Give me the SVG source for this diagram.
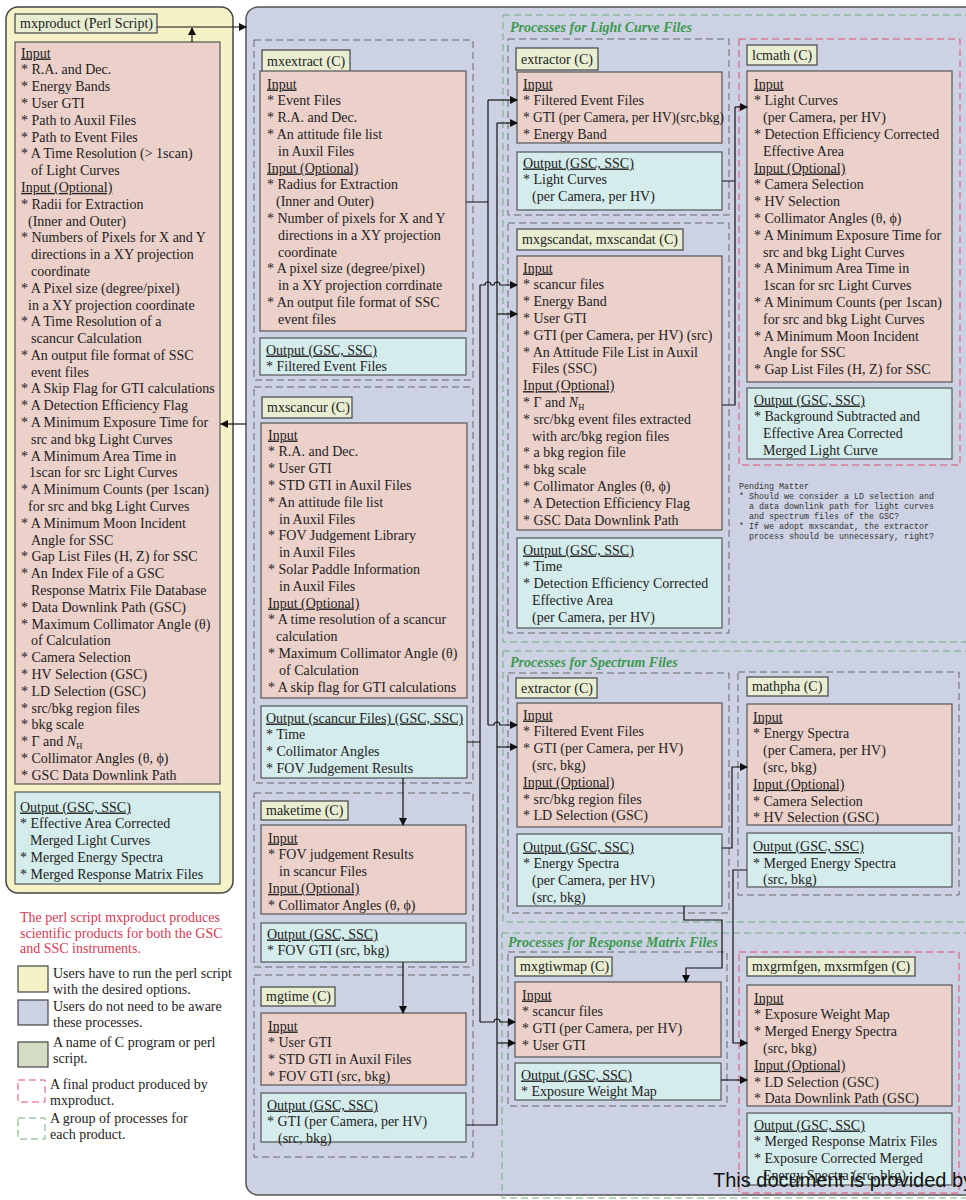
<svg xmlns="http://www.w3.org/2000/svg" width="966" height="1200" viewBox="0 0 966 1200">
<defs>
<marker id="ah" markerWidth="8" markerHeight="8" refX="7" refY="4" orient="auto" markerUnits="userSpaceOnUse"><path d="M0,0 L8,4 L0,8 z" fill="#111"/></marker>
<style>
.t{font-family:"Liberation Serif","Times New Roman",serif;font-size:14px;fill:#222}
.g{font-family:"Liberation Serif","Times New Roman",serif;font-size:14px;font-weight:bold;font-style:italic;fill:#3b9a4c}
.rt{font-family:"Liberation Serif","Times New Roman",serif;font-size:14px;fill:#d63a55}
.pm{font-family:"Liberation Mono","Courier New",monospace;font-size:9.8px;fill:#333}
.in{fill:#ecd0ca;stroke:#555;stroke-width:1.2}
.out{fill:#d4ecec;stroke:#555;stroke-width:1.2}
.ttl{fill:#e9eed2;stroke:#444;stroke-width:1.2}
.gg{fill:none;stroke:#666;stroke-width:1;stroke-dasharray:7 4}
.grn{fill:none;stroke:#6fae7a;stroke-width:1;stroke-dasharray:7 4}
.red{fill:none;stroke:#e2506c;stroke-width:1;stroke-dasharray:7 4}
.c{fill:none;stroke:#111;stroke-width:1.2}
.ca{fill:none;stroke:#111;stroke-width:1.2;marker-end:url(#ah)}
</style>
</defs>
<rect width="966" height="1200" fill="#ffffff"/>

<!-- panels -->
<rect id="panel-user" x="6" y="7" width="227" height="886" rx="12" fill="#f4f2c6" stroke="#444" stroke-width="1.5"/>
<rect id="panel-internal" x="246" y="7" width="740" height="1188" rx="12" fill="#cdd1e4" stroke="#555" stroke-width="1.5"/>

<!-- green process groups -->
<g id="grp-lc"><rect class="grn" x="503" y="15" width="480" height="627"/><text class="g" x="510" y="32">Processes for Light Curve Files</text></g>
<g id="grp-spec"><rect class="grn" x="503" y="651" width="480" height="271"/><text class="g" x="510" y="667">Processes for Spectrum Files</text></g>
<g id="grp-rsp"><rect class="grn" x="502" y="933" width="480" height="265"/><text class="g" x="508" y="947">Processes for Response Matrix Files</text></g>

<!-- mxproduct -->
<g id="mxproduct">
<rect class="ttl" x="15" y="14" width="142" height="19"/>
<text class="t" x="20" y="28">mxproduct (Perl Script)</text>
<rect class="in" x="15" y="42" width="205" height="742"/>
<text class="t" y="57.5">
<tspan x="21" text-decoration="underline">Input</tspan>
<tspan x="21" dy="16.8">* R.A. and Dec.</tspan>
<tspan x="21" dy="16.8">* Energy Bands</tspan>
<tspan x="21" dy="16.8">* User GTI</tspan>
<tspan x="21" dy="16.8">* Path to Auxil Files</tspan>
<tspan x="21" dy="16.8">* Path to Event Files</tspan>
<tspan x="21" dy="16.8">* A Time Resolution (&gt; 1scan)</tspan>
<tspan x="31" dy="16.8">of Light Curves</tspan>
<tspan x="21" dy="16.8" text-decoration="underline">Input (Optional)</tspan>
<tspan x="21" dy="16.8">* Radii for Extraction</tspan>
<tspan x="28" dy="16.8">(Inner and Outer)</tspan>
<tspan x="21" dy="16.8">* Numbers of Pixels for X and Y</tspan>
<tspan x="31" dy="16.8">directions in a XY projection</tspan>
<tspan x="31" dy="16.8">coordinate</tspan>
<tspan x="21" dy="16.8">* A Pixel size (degree/pixel)</tspan>
<tspan x="28" dy="16.8">in a XY projection coordinate</tspan>
<tspan x="21" dy="16.8">* A Time Resolution of a</tspan>
<tspan x="31" dy="16.8">scancur Calculation</tspan>
<tspan x="21" dy="16.8">* An output file format of SSC</tspan>
<tspan x="31" dy="16.8">event files</tspan>
<tspan x="21" dy="16.8">* A Skip Flag for GTI calculations</tspan>
<tspan x="21" dy="16.8">* A Detection Efficiency Flag</tspan>
<tspan x="21" dy="16.8">* A Minimum Exposure Time for</tspan>
<tspan x="31" dy="16.8">src and bkg Light Curves</tspan>
<tspan x="21" dy="16.8">* A Minimum Area Time in</tspan>
<tspan x="29" dy="16.8">1scan for src Light Curves</tspan>
<tspan x="21" dy="16.8">* A Minimum Counts (per 1scan)</tspan>
<tspan x="28" dy="16.8">for src and bkg Light Curves</tspan>
<tspan x="21" dy="16.8">* A Minimum Moon Incident</tspan>
<tspan x="31" dy="16.8">Angle for SSC</tspan>
<tspan x="21" dy="16.8">* Gap List Files (H, Z) for SSC</tspan>
<tspan x="21" dy="16.8">* An Index File of a GSC</tspan>
<tspan x="31" dy="16.8">Response Matrix File Database</tspan>
<tspan x="21" dy="16.8">* Data Downlink Path (GSC)</tspan>
<tspan x="21" dy="16.8">* Maximum Collimator Angle (θ)</tspan>
<tspan x="31" dy="16.8">of Calculation</tspan>
<tspan x="21" dy="16.8">* Camera Selection</tspan>
<tspan x="21" dy="16.8">* HV Selection (GSC)</tspan>
<tspan x="21" dy="16.8">* LD Selection (GSC)</tspan>
<tspan x="21" dy="16.8">* src/bkg region files</tspan>
<tspan x="21" dy="16.8">* bkg scale</tspan>
<tspan x="21" dy="16.8">* Γ and <tspan font-style="italic">N</tspan><tspan font-size="8.5" baseline-shift="-3">H</tspan></tspan>
<tspan x="21" dy="16.8">* Collimator Angles (θ, ϕ)</tspan>
<tspan x="21" dy="16.8">* GSC Data Downlink Path</tspan>
</text>
<rect class="out" x="15" y="792" width="205" height="92"/>
<text class="t" y="811.5">
<tspan x="20" text-decoration="underline">Output (GSC, SSC)</tspan>
<tspan x="20" dy="16.8">* Effective Area Corrected</tspan>
<tspan x="30" dy="16.8">Merged Light Curves</tspan>
<tspan x="20" dy="16.8">* Merged Energy Spectra</tspan>
<tspan x="20" dy="16.8">* Merged Response Matrix Files</tspan>
</text>
</g>

<!-- mxextract -->
<g id="mxextract">
<rect class="gg" x="254" y="40" width="219" height="340"/>
<rect class="ttl" x="262" y="50" width="88" height="22"/>
<text class="t" x="267" y="65.5">mxextract (C)</text>
<rect class="in" x="260" y="71" width="206" height="260"/>
<text class="t" y="88.5">
<tspan x="267" text-decoration="underline">Input</tspan>
<tspan x="267" dy="16.8">* Event Files</tspan>
<tspan x="267" dy="16.8">* R.A. and Dec.</tspan>
<tspan x="267" dy="16.8">* An attitude file list</tspan>
<tspan x="278" dy="16.8">in Auxil Files</tspan>
<tspan x="267" dy="16.8" text-decoration="underline">Input (Optional)</tspan>
<tspan x="267" dy="16.8">* Radius for Extraction</tspan>
<tspan x="276" dy="16.8">(Inner and Outer)</tspan>
<tspan x="267" dy="16.8">* Number of pixels for X and Y</tspan>
<tspan x="278" dy="16.8">directions in a XY projection</tspan>
<tspan x="278" dy="16.8">coordinate</tspan>
<tspan x="267" dy="16.8">* A pixel size (degree/pixel)</tspan>
<tspan x="278" dy="16.8">in a XY projection corrdinate</tspan>
<tspan x="267" dy="16.8">* An output file format of SSC</tspan>
<tspan x="278" dy="16.8">event files</tspan>
</text>
<rect class="out" x="260" y="338" width="206" height="37"/>
<text class="t" y="354.5">
<tspan x="266" text-decoration="underline">Output (GSC, SSC)</tspan>
<tspan x="266" dy="16.8">* Filtered Event Files</tspan>
</text>
</g>

<!-- mxscancur -->
<g id="mxscancur">
<rect class="gg" x="254" y="387" width="219" height="396"/>
<rect class="ttl" x="262" y="397" width="90" height="21"/>
<text class="t" x="267" y="412">mxscancur (C)</text>
<rect class="in" x="261" y="423" width="206" height="275"/>
<text class="t" y="439.5">
<tspan x="268" text-decoration="underline">Input</tspan>
<tspan x="268" dy="16.8">* R.A. and Dec.</tspan>
<tspan x="268" dy="16.8">* User GTI</tspan>
<tspan x="268" dy="16.8">* STD GTI in Auxil Files</tspan>
<tspan x="268" dy="16.8">* An attitude file list</tspan>
<tspan x="279" dy="16.8">in Auxil Files</tspan>
<tspan x="268" dy="16.8">* FOV Judgement Library</tspan>
<tspan x="279" dy="16.8">in Auxil Files</tspan>
<tspan x="268" dy="16.8">* Solar Paddle Information</tspan>
<tspan x="279" dy="16.8">in Auxil Files</tspan>
<tspan x="268" dy="16.8" text-decoration="underline">Input (Optional)</tspan>
<tspan x="268" dy="16.8">* A time resolution of a scancur</tspan>
<tspan x="276" dy="16.8">calculation</tspan>
<tspan x="268" dy="16.8">* Maximum Collimator Angle (θ)</tspan>
<tspan x="279" dy="16.8">of Calculation</tspan>
<tspan x="268" dy="16.8">* A skip flag for GTI calculations</tspan>
</text>
<rect class="out" x="261" y="706" width="206" height="72"/>
<text class="t" y="722.5">
<tspan x="266" text-decoration="underline">Output (scancur Files) (GSC, SSC)</tspan>
<tspan x="266" dy="16.8">* Time</tspan>
<tspan x="266" dy="16.8">* Collimator Angles</tspan>
<tspan x="266" dy="16.8">* FOV Judgement Results</tspan>
</text>
</g>

<!-- maketime -->
<g id="maketime">
<rect class="gg" x="254" y="793" width="219" height="174"/>
<rect class="ttl" x="261" y="801" width="87" height="19"/>
<text class="t" x="266" y="815">maketime (C)</text>
<rect class="in" x="261" y="825" width="205" height="89"/>
<text class="t" y="842.5">
<tspan x="268" text-decoration="underline">Input</tspan>
<tspan x="268" dy="16.8">* FOV judgement Results</tspan>
<tspan x="279" dy="16.8">in scancur Files</tspan>
<tspan x="268" dy="16.8" text-decoration="underline">Input (Optional)</tspan>
<tspan x="268" dy="16.8">* Collimator Angles (θ, ϕ)</tspan>
</text>
<rect class="out" x="261" y="923" width="205" height="39"/>
<text class="t" y="938.5">
<tspan x="267" text-decoration="underline">Output (GSC, SSC)</tspan>
<tspan x="267" dy="16.8">* FOV GTI (src, bkg)</tspan>
</text>
</g>

<!-- mgtime -->
<g id="mgtime">
<rect class="gg" x="254" y="975" width="219" height="182"/>
<rect class="ttl" x="261" y="987" width="74" height="19"/>
<text class="t" x="266" y="1001">mgtime (C)</text>
<rect class="in" x="261" y="1013" width="205" height="72"/>
<text class="t" y="1030.5">
<tspan x="268" text-decoration="underline">Input</tspan>
<tspan x="268" dy="16.8">* User GTI</tspan>
<tspan x="268" dy="16.8">* STD GTI in Auxil Files</tspan>
<tspan x="268" dy="16.8">* FOV GTI (src, bkg)</tspan>
</text>
<rect class="out" x="261" y="1093" width="205" height="49"/>
<text class="t" y="1109.5">
<tspan x="267" text-decoration="underline">Output (GSC, SSC)</tspan>
<tspan x="267" dy="16.8">* GTI (per Camera, per HV)</tspan>
<tspan x="278" dy="16.8">(src, bkg)</tspan>
</text>
</g>

<!-- extractor (light curve) -->
<g id="extractor-lc">
<rect class="gg" x="508" y="39" width="221" height="176"/>
<rect class="ttl" x="516" y="48" width="82" height="22"/>
<text class="t" x="521" y="63.5">extractor (C)</text>
<rect class="in" x="517" y="72" width="205" height="71"/>
<text class="t" y="88.5">
<tspan x="523" text-decoration="underline">Input</tspan>
<tspan x="523" dy="16.8">* Filtered Event Files</tspan>
<tspan x="523" dy="16.8" textLength="201" lengthAdjust="spacingAndGlyphs">* GTI (per Camera, per HV)(src,bkg)</tspan>
<tspan x="523" dy="16.8">* Energy Band</tspan>
</text>
<rect class="out" x="517" y="152" width="205" height="58"/>
<text class="t" y="167.5">
<tspan x="523" text-decoration="underline">Output (GSC, SSC)</tspan>
<tspan x="523" dy="16.8">* Light Curves</tspan>
<tspan x="532" dy="16.8">(per Camera, per HV)</tspan>
</text>
</g>

<!-- mxgscandat -->
<g id="mxgscandat">
<rect class="gg" x="508" y="223" width="221" height="410"/>
<rect class="ttl" x="517" y="229" width="166" height="21"/>
<text class="t" x="522" y="244">mxgscandat, mxscandat (C)</text>
<rect class="in" x="517" y="256" width="205" height="274"/>
<text class="t" y="272.5">
<tspan x="523" text-decoration="underline">Input</tspan>
<tspan x="523" dy="16.8">* scancur files</tspan>
<tspan x="523" dy="16.8">* Energy Band</tspan>
<tspan x="523" dy="16.8">* User GTI</tspan>
<tspan x="523" dy="16.8">* GTI (per Camera, per HV) (src)</tspan>
<tspan x="523" dy="16.8">* An Attitude File List in Auxil</tspan>
<tspan x="532" dy="16.8">Files (SSC)</tspan>
<tspan x="523" dy="16.8" text-decoration="underline">Input (Optional)</tspan>
<tspan x="523" dy="16.8">* Γ and <tspan font-style="italic">N</tspan><tspan font-size="8.5" baseline-shift="-3">H</tspan></tspan>
<tspan x="523" dy="16.8">* src/bkg event files extracted</tspan>
<tspan x="532" dy="16.8">with arc/bkg region files</tspan>
<tspan x="523" dy="16.8">* a bkg region file</tspan>
<tspan x="523" dy="16.8">* bkg scale</tspan>
<tspan x="523" dy="16.8">* Collimator Angles (θ, ϕ)</tspan>
<tspan x="523" dy="16.8">* A Detection Efficiency Flag</tspan>
<tspan x="523" dy="16.8">* GSC Data Downlink Path</tspan>
</text>
<rect class="out" x="517" y="538" width="205" height="90"/>
<text class="t" y="554.5">
<tspan x="523" text-decoration="underline">Output (GSC, SSC)</tspan>
<tspan x="523" dy="16.8">* Time</tspan>
<tspan x="523" dy="16.8">* Detection Efficiency Corrected</tspan>
<tspan x="532" dy="16.8">Effective Area</tspan>
<tspan x="532" dy="16.8">(per Camera, per HV)</tspan>
</text>
</g>

<!-- lcmath -->
<g id="lcmath">
<rect class="red" x="739" y="39" width="221" height="426"/>
<rect class="ttl" x="747" y="45" width="70" height="20"/>
<text class="t" x="752" y="59.5">lcmath (C)</text>
<rect class="in" x="747" y="71" width="205" height="311"/>
<text class="t" y="88.5">
<tspan x="754" text-decoration="underline">Input</tspan>
<tspan x="754" dy="16.8">* Light Curves</tspan>
<tspan x="763" dy="16.8">(per Camera, per HV)</tspan>
<tspan x="754" dy="16.8">* Detection Efficiency Corrected</tspan>
<tspan x="763" dy="16.8">Effective Area</tspan>
<tspan x="754" dy="16.8" text-decoration="underline">Input (Optional)</tspan>
<tspan x="754" dy="16.8">* Camera Selection</tspan>
<tspan x="754" dy="16.8">* HV Selection</tspan>
<tspan x="754" dy="16.8">* Collimator Angles (θ, ϕ)</tspan>
<tspan x="754" dy="16.8">* A Minimum Exposure Time for</tspan>
<tspan x="763" dy="16.8">src and bkg Light Curves</tspan>
<tspan x="754" dy="16.8">* A Minimum Area Time in</tspan>
<tspan x="763" dy="16.8">1scan for src Light Curves</tspan>
<tspan x="754" dy="16.8">* A Minimum Counts (per 1scan)</tspan>
<tspan x="763" dy="16.8">for src and bkg Light Curves</tspan>
<tspan x="754" dy="16.8">* A Minimum Moon Incident</tspan>
<tspan x="763" dy="16.8">Angle for SSC</tspan>
<tspan x="754" dy="16.8">* Gap List Files (H, Z) for SSC</tspan>
</text>
<rect class="out" x="747" y="388" width="205" height="71"/>
<text class="t" y="404.5">
<tspan x="754" text-decoration="underline">Output (GSC, SSC)</tspan>
<tspan x="754" dy="16.8">* Background Subtracted and</tspan>
<tspan x="763" dy="16.8">Effective Area Corrected</tspan>
<tspan x="763" dy="16.8">Merged Light Curve</tspan>
</text>
</g>

<!-- pending matter -->
<g id="pending-matter">
<text class="pm" x="739" y="489" textLength="70" lengthAdjust="spacingAndGlyphs">Pending Matter</text>
<text class="pm" x="739" y="499" textLength="195" lengthAdjust="spacingAndGlyphs">* Should we consider a LD selection and</text>
<text class="pm" x="749" y="509" textLength="185" lengthAdjust="spacingAndGlyphs">a data downlink path for light curves</text>
<text class="pm" x="749" y="519" textLength="150" lengthAdjust="spacingAndGlyphs">and spectrum files of the GSC?</text>
<text class="pm" x="739" y="529" textLength="190" lengthAdjust="spacingAndGlyphs">* If we adopt mxscandat, the extractor</text>
<text class="pm" x="749" y="539" textLength="185" lengthAdjust="spacingAndGlyphs">process should be unnecessary, right?</text>
</g>

<!-- extractor (spectrum) -->
<g id="extractor-spec">
<rect class="gg" x="508" y="673" width="221" height="240"/>
<rect class="ttl" x="516" y="678" width="81" height="20"/>
<text class="t" x="521" y="692.5">extractor (C)</text>
<rect class="in" x="517" y="703" width="205" height="124"/>
<text class="t" y="719.5">
<tspan x="523" text-decoration="underline">Input</tspan>
<tspan x="523" dy="16.8">* Filtered Event Files</tspan>
<tspan x="523" dy="16.8">* GTI (per Camera, per HV)</tspan>
<tspan x="532" dy="16.8">(src, bkg)</tspan>
<tspan x="523" dy="16.8" text-decoration="underline">Input (Optional)</tspan>
<tspan x="523" dy="16.8">* src/bkg region files</tspan>
<tspan x="523" dy="16.8">* LD Selection (GSC)</tspan>
</text>
<rect class="out" x="517" y="834" width="205" height="72"/>
<text class="t" y="851.5">
<tspan x="523" text-decoration="underline">Output (GSC, SSC)</tspan>
<tspan x="523" dy="16.8">* Energy Spectra</tspan>
<tspan x="532" dy="16.8">(per Camera, per HV)</tspan>
<tspan x="532" dy="16.8">(src, bkg)</tspan>
</text>
</g>

<!-- mathpha -->
<g id="mathpha">
<rect class="gg" x="738" y="672" width="221" height="223"/>
<rect class="ttl" x="747" y="677" width="81" height="19"/>
<text class="t" x="752" y="691">mathpha (C)</text>
<rect class="in" x="747" y="704" width="205" height="121"/>
<text class="t" y="721.5">
<tspan x="753" text-decoration="underline">Input</tspan>
<tspan x="753" dy="16.8">* Energy Spectra</tspan>
<tspan x="763" dy="16.8">(per Camera, per HV)</tspan>
<tspan x="763" dy="16.8">(src, bkg)</tspan>
<tspan x="753" dy="16.8" text-decoration="underline">Input (Optional)</tspan>
<tspan x="753" dy="16.8">* Camera Selection</tspan>
<tspan x="753" dy="16.8">* HV Selection (GSC)</tspan>
</text>
<rect class="out" x="747" y="833" width="205" height="54"/>
<text class="t" y="851">
<tspan x="753" text-decoration="underline">Output (GSC, SSC)</tspan>
<tspan x="753" dy="16.5">* Merged Energy Spectra</tspan>
<tspan x="763" dy="16.5">(src, bkg)</tspan>
</text>
</g>

<!-- mxgtiwmap -->
<g id="mxgtiwmap">
<rect class="gg" x="508" y="952" width="219" height="154"/>
<rect class="ttl" x="515" y="957" width="97" height="19"/>
<text class="t" x="520" y="971">mxgtiwmap (C)</text>
<rect class="in" x="515" y="982" width="206" height="75"/>
<text class="t" y="999.5">
<tspan x="522" text-decoration="underline">Input</tspan>
<tspan x="522" dy="16.8">* scancur files</tspan>
<tspan x="522" dy="16.8">* GTI (per Camera, per HV)</tspan>
<tspan x="522" dy="16.8">* User GTI</tspan>
</text>
<rect class="out" x="515" y="1063" width="206" height="37"/>
<text class="t" y="1079.5">
<tspan x="521" text-decoration="underline">Output (GSC, SSC)</tspan>
<tspan x="521" dy="16.8">* Exposure Weight Map</tspan>
</text>
</g>

<!-- mxgrmfgen -->
<g id="mxgrmfgen">
<rect class="red" x="739" y="952" width="220" height="241"/>
<rect class="ttl" x="747" y="957" width="168" height="19"/>
<text class="t" x="752" y="971">mxgrmfgen, mxsrmfgen (C)</text>
<rect class="in" x="747" y="985" width="205" height="121"/>
<text class="t" y="1002.5">
<tspan x="754" text-decoration="underline">Input</tspan>
<tspan x="754" dy="16.8">* Exposure Weight Map</tspan>
<tspan x="754" dy="16.8">* Merged Energy Spectra</tspan>
<tspan x="763" dy="16.8">(src, bkg)</tspan>
<tspan x="754" dy="16.8" text-decoration="underline">Input (Optional)</tspan>
<tspan x="754" dy="16.8">* LD Selection (GSC)</tspan>
<tspan x="754" dy="16.8">* Data Downlink Path (GSC)</tspan>
</text>
<rect class="out" x="747" y="1113" width="205" height="72"/>
<text class="t" y="1129.5">
<tspan x="754" text-decoration="underline">Output (GSC, SSC)</tspan>
<tspan x="754" dy="16.8">* Merged Response Matrix Files</tspan>
<tspan x="754" dy="16.8">* Exposure Corrected Merged</tspan>
<tspan x="763" dy="16.8">Energy Spectra (src, bkg)</tspan>
</text>
</g>

<!-- connectors -->
<g id="connectors">
<path class="ca" d="M157,27 H246"/>
<path class="ca" d="M192,42 V28"/>
<path class="ca" d="M246,424 H221"/>
<path class="ca" d="M403,778 V825"/>
<path class="ca" d="M403,962 V1013"/>
<path class="c" d="M466,202 H488 M488,100 V725"/>
<path class="ca" d="M488,100 H517"/>
<path class="ca" d="M488,725 H494 a3,3 0 0 1 6,0 H517"/>
<path class="c" d="M466,1125 H497 V123"/>
<path class="ca" d="M497,123 H517"/>
<path class="ca" d="M497,314 H517"/>
<path class="ca" d="M497,747 H517"/>
<path class="ca" d="M497,1043 H515"/>
<path class="c" d="M467,742 H480 M480,285 V1022"/>
<path class="ca" d="M480,285 H485 a3,3 0 0 1 6,0 H494 a3,3 0 0 1 6,0 H517"/>
<path class="ca" d="M480,1022 H494 a3,3 0 0 1 6,0 H515"/>
<path class="c" d="M722,181 H735 M722,405 H735 V107"/>
<path class="ca" d="M735,107 H747"/>
<path class="ca" d="M722,848 H732 V767 H747"/>
<path class="ca" d="M747,870 H733 V1043 H747"/>
<path class="ca" d="M684,906 V920 H722 V968 H686 V982"/>
<path class="ca" d="M721,1080 H747"/>
</g>

<!-- legend -->
<g id="legend">
<text class="rt" y="922">
<tspan x="20">The perl script mxproduct produces</tspan>
<tspan x="20" dy="15.5">scientific products for both the GSC</tspan>
<tspan x="20" dy="15.5">and SSC instruments.</tspan>
</text>
<rect x="18" y="966" width="30" height="26" fill="#f4f2c6" stroke="#444" stroke-width="1.2"/>
<text class="t" y="978"><tspan x="53">Users have to run the perl script</tspan><tspan x="53" dy="15.5">with the desired options.</tspan></text>
<rect x="18" y="1000" width="30" height="25" fill="#cdd1e4" stroke="#444" stroke-width="1.2"/>
<text class="t" y="1011"><tspan x="53">Users do not need to be aware</tspan><tspan x="53" dy="15.5">these processes.</tspan></text>
<rect x="18" y="1042" width="30" height="25" fill="#d5dcc4" stroke="#444" stroke-width="1.2"/>
<text class="t" y="1047"><tspan x="53">A name of C program or perl</tspan><tspan x="53" dy="15.5">script.</tspan></text>
<rect class="red" x="18" y="1080" width="27" height="22"/>
<text class="t" y="1089"><tspan x="50">A final product produced by</tspan><tspan x="50" dy="15.5">mxproduct.</tspan></text>
<rect class="grn" x="18" y="1118" width="27" height="21"/>
<text class="t" y="1123"><tspan x="50">A group of processes for</tspan><tspan x="50" dy="15.5">each product.</tspan></text>
</g>

<text x="713" y="1187" font-family="Liberation Sans, Arial, sans-serif" font-size="20" fill="#111">This document is provided by</text>
</svg>
